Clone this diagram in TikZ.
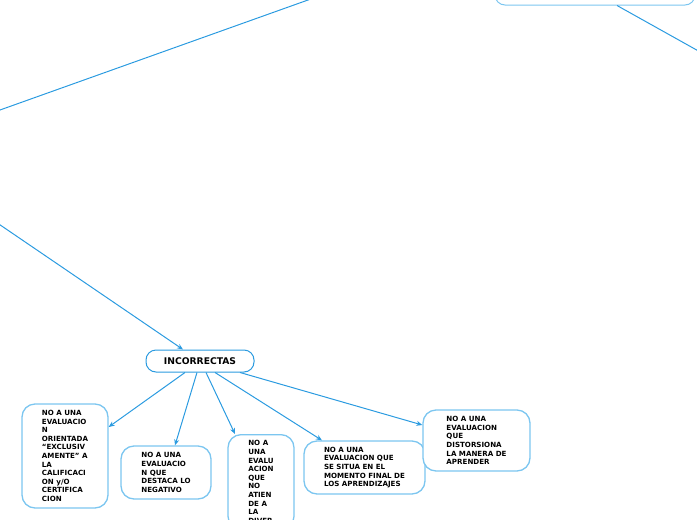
\documentclass[tikz,border=0pt]{standalone}
\usepackage{fontspec}
\setmainfont{DejaVu Sans}
\usetikzlibrary{arrows.meta, calc}
\definecolor{linkblue}{HTML}{2B9BE0}
\definecolor{boxblue}{HTML}{7CC6F0}

\tikzset{
  caja/.style={draw=boxblue, line width=1.3pt, rounded corners=13pt, fill=white,
    align=left, inner sep=4pt, font=\fontsize{7.1}{8.6}\selectfont\bfseries},
  titulo/.style={draw=linkblue, line width=1pt, rounded corners=10pt, fill=white,
    font=\fontsize{9.2}{10}\selectfont\bfseries},
  enlace/.style={linkblue, line width=1pt},
  flecha/.style={enlace, -{Stealth[length=6pt, width=5pt]}}
}

\begin{document}
\begin{tikzpicture}[x=1pt, y=-1pt]

% Page frame
\useasboundingbox (0,0) rectangle (697,520);

% Off-page anchors of the larger map
\coordinate (centro) at (-110.6,149.5);
\coordinate (arriba) at (336,-10);
\coordinate (derecha) at (733,70.3);

% Top-right box (mostly above the page)
\node[titulo, draw=boxblue, minimum width=200pt, minimum height=40pt] (correctas) at (595,-15) {};

% ============================================================
% INCORRECTAS and its children
% ============================================================
\node[titulo, minimum width=108pt, minimum height=22pt] (incorrectas) at (200,361) {INCORRECTAS};

\node[caja, minimum width=86pt, minimum height=104pt] (calif) at (65,456)
  {NO A UNA\\EVALUACIO\\N\\ORIENTADA\\``EXCLUSIV\\AMENTE'' A\\LA\\CALIFICACI\\ON y/O\\CERTIFICA\\CION};
\node[caja, minimum width=90pt, minimum height=53pt] (negativo) at (166,472.5)
  {NO A UNA\\EVALUACIO\\N QUE\\DESTACA LO\\NEGATIVO};
\node[caja, minimum width=66pt, anchor=north, inner ysep=6pt] (diversidad) at (261,434)
  {NO A\\UNA\\EVALU\\ACION\\QUE\\NO\\ATIEN\\DE A\\LA\\DIVER};
\node[caja, minimum width=121pt, minimum height=53pt] (final) at (364.5,467.5)
  {NO A UNA\\EVALUACION QUE\\SE SITUA EN EL\\MOMENTO FINAL DE\\LOS APRENDIZAJES};
\node[caja, minimum width=107pt, minimum height=61pt] (distorsiona) at (476.5,440.5)
  {NO A UNA\\EVALUACION\\QUE\\DISTORSIONA\\LA MANERA DE\\APRENDER};

% Connectors
\draw[enlace] (centro) -- (arriba);
\draw[enlace] ([xshift=22pt]correctas.south) -- (derecha);
\draw[flecha] (centro) -- ([xshift=-17pt]incorrectas.north);
\draw[flecha] ([xshift=-15pt]incorrectas.south) -- ([yshift=29pt]calif.east);
\draw[flecha] ([xshift=-3pt]incorrectas.south) -- ([xshift=9pt]negativo.north);
\draw[flecha] ([xshift=6pt]incorrectas.south) -- ([xshift=-26pt]diversidad.north);
\draw[flecha] ([xshift=15pt]incorrectas.south) -- ([xshift=-42.5pt]final.north);
\draw[flecha] ([xshift=40pt]incorrectas.south) -- ([yshift=15.5pt]distorsiona.west);

\end{tikzpicture}
\end{document}
